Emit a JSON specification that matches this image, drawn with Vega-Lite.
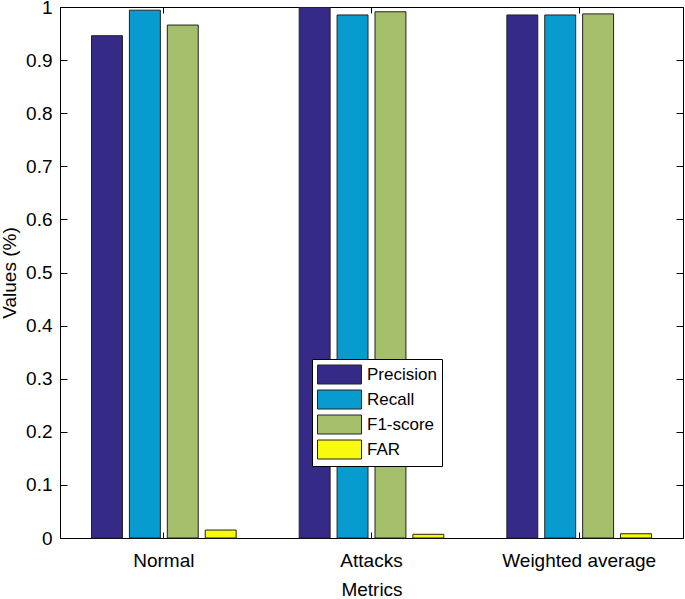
{
  "$schema": "https://vega.github.io/schema/vega-lite/v6.json",
  "width": 623,
  "height": 531,
  "autosize": "none",
  "padding": {"left": 60, "top": 7, "right": 2, "bottom": 61},
  "background": "white",
  "config": {
    "view": {"stroke": "black", "strokeWidth": 1},
    "font": "Liberation Sans",
    "axis": {
      "grid": false,
      "domainColor": "black",
      "tickColor": "black",
      "labelColor": "black",
      "titleColor": "black",
      "labelFont": "Liberation Sans",
      "titleFont": "Liberation Sans",
      "labelFontSize": 19,
      "titleFontSize": 19,
      "titleFontWeight": "normal"
    }
  },
  "data": {
    "values": [
      {"group": "Normal", "metric": "Precision", "value": 0.946},
      {"group": "Normal", "metric": "Recall", "value": 0.994},
      {"group": "Normal", "metric": "F1-score", "value": 0.966},
      {"group": "Normal", "metric": "FAR", "value": 0.015},
      {"group": "Attacks", "metric": "Precision", "value": 0.999},
      {"group": "Attacks", "metric": "Recall", "value": 0.985},
      {"group": "Attacks", "metric": "F1-score", "value": 0.991},
      {"group": "Attacks", "metric": "FAR", "value": 0.007},
      {"group": "Weighted average", "metric": "Precision", "value": 0.985},
      {"group": "Weighted average", "metric": "Recall", "value": 0.985},
      {"group": "Weighted average", "metric": "F1-score", "value": 0.987},
      {"group": "Weighted average", "metric": "FAR", "value": 0.008}
    ]
  },
  "layer": [
    {
      "mark": {"type": "bar", "stroke": "#222222", "strokeWidth": 1},
      "encoding": {
        "x": {
          "field": "group",
          "type": "nominal",
          "sort": ["Normal", "Attacks", "Weighted average"],
          "scale": {"paddingInner": 0.27, "paddingOuter": 0.135},
          "axis": {
            "orient": "bottom",
            "title": "Metrics",
            "labelAngle": 0,
            "tickSize": -6,
            "labelPadding": 19,
            "titlePadding": 10
          }
        },
        "xOffset": {
          "field": "metric",
          "type": "nominal",
          "sort": ["Precision", "Recall", "F1-score", "FAR"],
          "scale": {"paddingInner": 0.184, "paddingOuter": 0.092}
        },
        "y": {
          "field": "value",
          "type": "quantitative",
          "scale": {"domain": [0, 1], "nice": false, "zero": true},
          "axis": {
            "orient": "left",
            "title": "Values (%)",
            "values": [0, 0.1, 0.2, 0.3, 0.4, 0.5, 0.6, 0.7, 0.8, 0.9, 1],
            "format": "~g",
            "tickSize": -7,
            "labelPadding": 15,
            "titlePadding": 6
          }
        },
        "color": {
          "field": "metric",
          "type": "nominal",
          "sort": ["Precision", "Recall", "F1-score", "FAR"],
          "scale": {
            "domain": ["Precision", "Recall", "F1-score", "FAR"],
            "range": ["#352a87", "#089bcf", "#a6bf6b", "#f9fb0e"]
          },
          "legend": {
            "title": null,
            "orient": "none",
            "legendX": 252,
            "legendY": 352,
            "strokeColor": "black",
            "fillColor": "white",
            "padding": 5,
            "symbolType": "M-1,-0.95H3.4V0.95H-1Z",
            "symbolSize": 400,
            "symbolStrokeColor": "#222222",
            "symbolStrokeWidth": 1,
            "symbolOpacity": 1,
            "labelFontSize": 17,
            "labelFont": "Liberation Sans",
            "labelColor": "black",
            "rowPadding": 2,
            "labelOffset": 29
          }
        }
      }
    },
    {
      "mark": {"type": "point", "opacity": 0},
      "encoding": {
        "x": {
          "field": "group",
          "type": "nominal",
          "sort": ["Normal", "Attacks", "Weighted average"],
          "axis": {"orient": "top", "title": null, "labels": false, "tickSize": -6, "domain": false}
        },
        "y": {
          "field": "value",
          "type": "quantitative",
          "axis": {
            "orient": "right",
            "title": null,
            "labels": false,
            "values": [0, 0.1, 0.2, 0.3, 0.4, 0.5, 0.6, 0.7, 0.8, 0.9, 1],
            "tickSize": -7,
            "domain": false
          }
        }
      }
    }
  ],
  "resolve": {"axis": {"x": "independent", "y": "independent"}}
}
